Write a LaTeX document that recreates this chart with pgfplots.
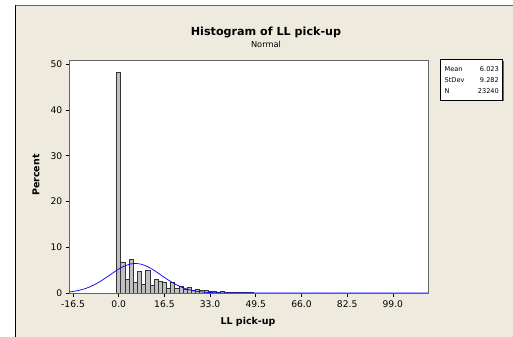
\documentclass[border=0pt]{standalone}
\usepackage{fontspec}
\setmainfont{DejaVu Sans}
\usepackage{pgfplots}
\pgfplotsset{compat=1.18}
\definecolor{bgbeige}{RGB}{238,234,222}
\definecolor{framegray}{RGB}{100,100,100}
\definecolor{barfill}{RGB}{192,192,192}
\begin{document}
\begin{tikzpicture}
\useasboundingbox (0bp,0bp) rectangle (513bp,337bp);
\fill[white] (0bp,0bp) rectangle (513bp,337bp);
\fill[bgbeige] (16bp,0bp) rectangle (513bp,331bp);
\draw[black,line width=1bp] (15.5bp,0bp) -- (15.5bp,331.5bp);
\draw[framegray,line width=1bp] (15.5bp,331.5bp) -- (513bp,331.5bp);
\begin{axis}[
  at={(69.7bp,44bp)}, anchor=south west,
  scale only axis, width=358.3bp, height=233bp,
  xmin=-17.7, xmax=111.7, ymin=0, ymax=50.9,
  axis background/.style={fill=white},
  axis line style={framegray,line width=0.8bp},
  xtick={-16.5,0,16.5,33,49.5,66,82.5,99},
  xticklabels={-16.5,0.0,16.5,33.0,49.5,66.0,82.5,99.0},
  ytick={0,10,20,30,40,50},
  xtick pos=bottom, ytick pos=left,
  tick align=outside, major tick length=4bp,
  tick style={black,line width=0.6bp},
  ticklabel style={font=\fontsize{9.2}{11}\selectfont},
  /pgf/number format/assume math mode=true,
  clip=true,
]
\addplot[ybar, bar width=1.5, fill=barfill, draw=black!80, line width=0.6bp] coordinates {
(0,48.2) (1.5,6.8) (3,3.0) (4.5,7.4) (6,2.4) (7.5,4.8) (9,1.9) (10.5,5.0)
(12,1.6) (13.5,2.9) (15,2.6) (16.5,2.4) (18,1.0) (19.5,2.4) (21,1.0) (22.5,1.4)
(24,0.8) (25.5,1.2) (27,0.6) (28.5,0.9) (30,0.6) (31.5,0.6) (33,0.35) (34.5,0.4)
(36,0.25) (37.5,0.3) (39,0.15) (40.5,0.2) (42,0.1) (43.5,0.15) (45,0.08) (46.5,0.06)
(48,0.05) (51,0.03) (54,0.03) (57,0.03) (60,0.03) (63,0.03) (66,0.03) (70.5,0.03)
(75,0.03) (79.5,0.03) (84,0.03) (90,0.03) (96,0.03) (102,0.03) (106.5,0.03)
};
\addplot[blue, line width=0.7bp, smooth] coordinates {
(-17.7,0.246) (-16,0.386) (-14,0.629) (-12,0.979) (-10,1.453) (-8,2.060)
(-6,2.786) (-4,3.598) (-2,4.440) (0,5.223) (2,5.869) (4,6.296) (5,6.408)
(6,6.447) (7,6.411) (8,6.303) (10,5.882) (12,5.240) (14,4.456) (16,3.618)
(18,2.804) (20,2.074) (22,1.466) (24,0.988) (26,0.636) (28,0.391) (30,0.229)
(32,0.128) (34,0.069) (36,0.035) (38,0.017) (40,0.008) (44,0.001) (50,0)
(70,0) (90,0) (111.7,0)
};
\end{axis}
\node[font=\fontsize{11.2}{13}\selectfont\bfseries] at (266bp,305bp) {Histogram of LL pick-up};
\node[font=\fontsize{8.3}{10}\selectfont] at (266bp,293bp) {Normal};
\node[font=\fontsize{9.5}{11}\selectfont\bfseries, rotate=90] at (36bp,162bp) {Percent};
\node[font=\fontsize{9.5}{11}\selectfont\bfseries] at (248bp,15bp) {LL pick-up};
% stats box
\fill[black!60] (441.5bp,235.5bp) rectangle (503.5bp,276.2bp);
\draw[black,fill=white,line width=0.8bp] (440bp,237bp) rectangle (502bp,277.7bp);
\begin{scope}[every node/.style={font=\fontsize{6.6}{8}\selectfont, inner sep=0pt}]
\node[anchor=west] at (444.5bp,268bp) {Mean};
\node[anchor=west] at (444.5bp,256.5bp) {StDev};
\node[anchor=west] at (444.5bp,245.5bp) {N};
\node[anchor=east] at (499bp,268bp) {6.023};
\node[anchor=east] at (499bp,256.5bp) {9.282};
\node[anchor=east] at (499bp,245.5bp) {23240};
\end{scope}
\end{tikzpicture}
\end{document}
